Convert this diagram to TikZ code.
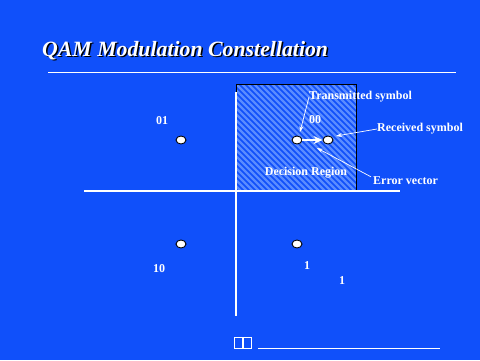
\documentclass[tikz,border=0pt]{standalone}
\usepackage{fontspec}
\setmainfont{Liberation Serif}
\usetikzlibrary{arrows.meta,shapes.geometric}
\definecolor{bg}{RGB}{16,80,250}
\definecolor{hatch}{RGB}{90,140,255}
\tikzset{
  pt/.style={draw=black,fill=white,line width=0.9pt,ellipse,minimum width=10pt,minimum height=8pt,inner sep=0pt},
  lbl/.style={text=white,font=\bfseries\fontsize{12}{13}\selectfont,inner sep=0pt},
  callout/.style={draw=white,line width=0.7pt,-{Stealth[length=6pt,width=4pt]}},
  axis/.style={draw=white,line width=2pt},
}
\begin{document}
\begin{tikzpicture}[x=1pt,y=-1pt]
\fill[bg] (0,0) rectangle (480,360);
\useasboundingbox (0,0) rectangle (480,360);
% title
\node[anchor=base west,inner sep=0pt,text=black,font=\bfseries\itshape\fontsize{21.8}{24}\selectfont] at (43.5,57.5) {QAM Modulation Constellation};
\node[anchor=base west,inner sep=0pt,text=white,font=\bfseries\itshape\fontsize{21.8}{24}\selectfont] (title) at (42,56) {QAM Modulation Constellation};
\draw[white,line width=0.8pt] (48,72) -- (456,72);
% decision region
\begin{scope}
\clip (236,84) rectangle (356,191);
\foreach \x in {110,116,...,360} {
  \draw[hatch,line width=2.2pt] (\x,84) -- ++(120,120);
}
\end{scope}
\draw[black,line width=1pt] (236,191) -- (236,84) -- (356,84) -- (356,191);
% axes
\draw[axis] (236,92) -- (236,316);
\draw[axis] (84,191) -- (400,191);
% constellation points
\node[pt] (p01) at (181,140) {};
\node[pt] (tx) at (297,140) {};
\node[pt] (rx) at (328,140) {};
\node[pt] (p10) at (181,244) {};
\node[pt] (p11) at (297,244) {};
\draw[white,line width=2.2pt,-{Stealth[length=9pt,width=8pt]}] (tx) -- (rx);
% labels
\node[lbl] (l01) at (162,121) {01};
\node[lbl] (l00) at (315,120) {00};
\node[lbl] (l10) at (159,269) {10};
\node[lbl] (l1a) at (307,266) {1};
\node[lbl] (l1b) at (342,281) {1};
\node[lbl,anchor=west] (ts) at (309,97) {Transmitted symbol};
\node[lbl,anchor=west] (rs) at (377,129) {Received symbol};
\node[lbl,anchor=west] (ev) at (373,181) {Error vector};
\node[lbl] (dr) at (306,173) {Decision Region};
\coordinate (tsend) at (300,132);
\coordinate (rsend) at (336,136);
\coordinate (evend) at (317,148);
\draw[callout] (ts.west) -- (tsend);
\draw[callout] (rs.west) -- (rsend);
\draw[callout] ([xshift=-2pt]ev.north west) -- (evend);
% footer
\draw[white,line width=1pt] (234,337) rectangle (251,348);
\fill[white] (241.5,337) rectangle (243.5,348);
\draw[white,line width=0.8pt] (258,348) -- (440,348);
\end{tikzpicture}
\end{document}
